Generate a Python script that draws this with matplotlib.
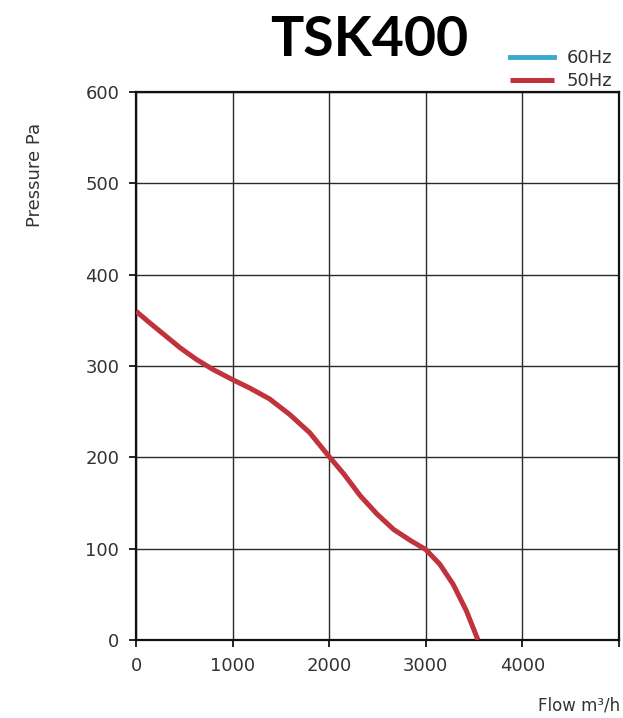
import matplotlib.pyplot as plt

# 50Hz fan curve (flow m3/h, pressure Pa)
flow_50 = [0, 145, 283, 456, 628, 800, 1000, 1175, 1382, 1590, 1798, 1990,
           2150, 2321, 2494, 2667, 2840, 3000, 3145, 3283, 3420, 3540]
pressure_50 = [360, 347, 335, 320, 307, 296, 285, 276, 264, 247, 227, 202,
               182, 158, 138, 121, 109, 99, 83, 61, 32, 0]

# 60Hz curve is only in the legend
flow_60 = []
pressure_60 = []

x_ticks = [0, 1000, 2000, 3000, 4000, 5000]
x_labels = ['0', '1000', '2000', '3000', '4000', '']
y_ticks = [0, 100, 200, 300, 400, 500, 600]

fig = plt.figure(figsize=(6.23, 7.18), dpi=100)
ax = fig.add_axes([136 / 623, 78 / 718, 483 / 623, 548 / 718])

line60, = ax.plot(flow_60, pressure_60, color='#3aa8cf', lw=3.5, label='60Hz')
line50, = ax.plot(flow_50, pressure_50, color='#c0323c', lw=3.6, label='50Hz',
                  solid_capstyle='butt', solid_joinstyle='round', zorder=3)

ax.set_xlim(0, 5000)
ax.set_ylim(0, 600)
ax.set_xticks(x_ticks)
ax.set_xticklabels(x_labels)
ax.set_yticks(y_ticks)
ax.grid(True, color='#2a2a2a', lw=1.0)
ax.tick_params(direction='out', length=5, width=1.2, labelsize=13,
               labelcolor='#333333', pad=7)
for s in ax.spines.values():
    s.set_linewidth(1.6)
    s.set_color('#111111')

# title
fig.text(369 / 623, 1 - 40 / 718, 'TSK400', ha='center', va='center',
         fontsize=40, fontweight='bold', family='Lato')

# axis labels placed like the original
fig.text(35 / 623, 1 - 175 / 718, 'Pressure Pa', rotation=90, ha='center',
         va='center', fontsize=13, color='#333333')
fig.text(620 / 623, 1 - 705 / 718, 'Flow m³/h', ha='right', va='center',
         fontsize=12, color='#333333')

fig.legend(handles=[line60, line50], loc='upper right',
           bbox_to_anchor=(621 / 623, 1 - 40 / 718), frameon=False,
           fontsize=13, handlelength=2.4, handletextpad=0.7,
           labelspacing=0.3, borderpad=0, labelcolor='#333333')

fig.savefig('out.png', dpi=100)
